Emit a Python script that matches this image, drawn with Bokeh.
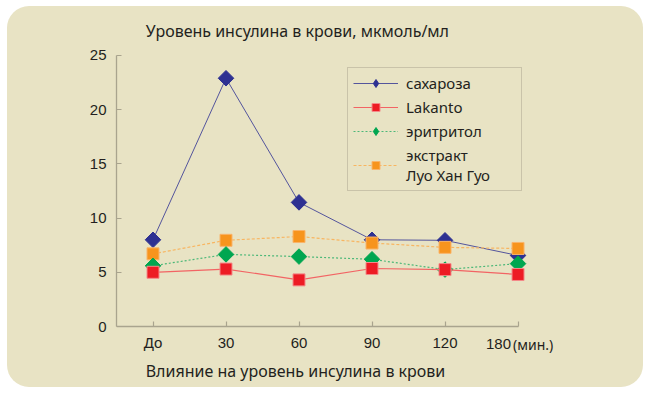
from math import pi
from bokeh.plotting import figure
from bokeh.models import Range1d, FixedTicker, Legend, LegendItem, Label
from bokeh.embed import file_html
from bokeh.resources import INLINE

# ---- data ----
time_labels = ["До", "30", "60", "90", "120", "180"]
x_pos = [0, 1, 2, 3, 4, 5]
sucrose = [8.0, 22.9, 11.45, 8.0, 7.95, 6.55]
lakanto = [5.0, 5.3, 4.3, 5.35, 5.25, 4.8]
erythritol = [5.6, 6.65, 6.45, 6.2, 5.25, 5.8]
luohanguo = [6.7, 7.95, 8.3, 7.7, 7.3, 7.2]
series_names = ["сахароза", "Lakanto", "эритритол", "экстракт\nЛуо Хан Гуо"]
y_ticks = [0, 5, 10, 15, 20, 25]
title_text = "Уровень инсулина в крови, мкмоль/мл"
caption_text = "Влияние на уровень инсулина в крови"
unit_text = "(мин.)"

BG = "#E8E3C4"
AXIS = "#A9A48E"
TXT = "#231F20"
NAVY = "#2E3192"
RED = "#ED1C24"
GREEN = "#00A650"
ORANGE = "#F7941D"

p = figure(width=636, height=381,
           x_range=Range1d(-0.5, 5.897), y_range=Range1d(-5.627, 29.52),
           output_backend="svg", toolbar_location=None,
           min_border_left=109, min_border_right=60,
           min_border_top=0, min_border_bottom=0,
           border_fill_color=None, background_fill_color=None,
           outline_line_color=None,
           styles={"background-color": BG, "border-radius": "22px",
                   "margin-left": "7px", "margin-top": "6px"})

p.xgrid.visible = False
p.ygrid.visible = False

# axes
for ax in (p.xaxis[0], p.yaxis[0]):
    ax.axis_line_color = AXIS
    ax.axis_line_width = 1.3
    ax.major_tick_line_color = AXIS
    ax.major_tick_line_width = 1.2
    ax.major_tick_in = 5
    ax.major_tick_out = 0
    ax.minor_tick_line_color = None
    ax.major_label_text_font = "Liberation Sans"
    ax.major_label_text_font_size = "15px"
    ax.major_label_text_color = TXT
    ax.major_label_standoff = 10
p.xaxis.major_label_standoff = 7

p.yaxis.ticker = FixedTicker(ticks=y_ticks)
p.yaxis.bounds = (0, 25)
p.xaxis.ticker = FixedTicker(ticks=x_pos)
p.xaxis.bounds = (-0.5, 5)
p.xaxis.fixed_location = 0
overrides = {i: lab for i, lab in zip(x_pos, time_labels)}
overrides[5] = ""
p.xaxis.major_label_overrides = overrides

# series
l1 = p.line(x_pos, sucrose, line_color=NAVY, line_width=1, line_alpha=0.8)
m1 = p.scatter(x_pos, sucrose, marker="square", angle=pi / 4, size=11,
               fill_color=NAVY, line_color=NAVY)
g1 = p.scatter(x_pos, sucrose, marker="diamond", size=14,
               fill_color=NAVY, line_color=NAVY, visible=False)

l4 = p.line(x_pos, luohanguo, line_color="#F8B560", line_width=1.2,
            line_dash="3 2")
m4 = p.scatter(x_pos, luohanguo, marker="square", size=12,
               fill_color=ORANGE, line_color="#F9B46A", line_width=1)

l3 = p.line(x_pos, erythritol, line_color="#4CB878", line_width=1.2,
            line_dash="2 2")
m3 = p.scatter(x_pos, erythritol, marker="square", angle=pi / 4, size=11,
               fill_color=GREEN, line_color=GREEN)
g3 = p.scatter(x_pos, erythritol, marker="diamond", size=14,
               fill_color=GREEN, line_color=GREEN, visible=False)

l2 = p.line(x_pos, lakanto, line_color="#F26464", line_width=1.2)
m2 = p.scatter(x_pos, lakanto, marker="square", size=12,
               fill_color=RED, line_color="#F48A8A", line_width=1)

legend = Legend(items=[
    LegendItem(label=series_names[0], renderers=[l1, g1]),
    LegendItem(label=series_names[1], renderers=[l2, m2]),
    LegendItem(label=series_names[2], renderers=[l3, g3]),
    LegendItem(label=series_names[3], renderers=[l4, m4]),
], location=(231, 196))
legend.border_line_color = AXIS
legend.border_line_width = 1.2
legend.background_fill_alpha = 0
legend.label_text_font = "Noto Sans"
legend.label_text_font_size = "15px"
legend.label_text_color = TXT
legend.glyph_width = 45
legend.glyph_height = 20
legend.label_height = 20
legend.label_width = 110
legend.label_standoff = 8
legend.padding = 5
legend.spacing = 4
legend.margin = 0
p.add_layout(legend)

# texts
p.add_layout(Label(x=-0.1, y=27.3, text=title_text,
                   text_font="Noto Sans", text_font_size="16px",
                   text_color=TXT, text_align="left", text_baseline="middle"))
p.add_layout(Label(x=-0.1, y=-4.06, text=caption_text,
                   text_font="Noto Sans", text_font_size="16px",
                   text_color=TXT, text_align="left", text_baseline="middle"))
p.add_layout(Label(x=5, x_offset=-7, y=-1.66, text=time_labels[5],
                   text_font="Liberation Sans", text_font_size="15px",
                   text_color=TXT, text_align="right", text_baseline="middle"))
p.add_layout(Label(x=5, x_offset=-5, y=-1.66, text=unit_text,
                   text_font="Noto Sans", text_font_size="14px",
                   text_color=TXT, text_align="left", text_baseline="middle"))

open("out.html", "w").write(file_html(p, INLINE))
